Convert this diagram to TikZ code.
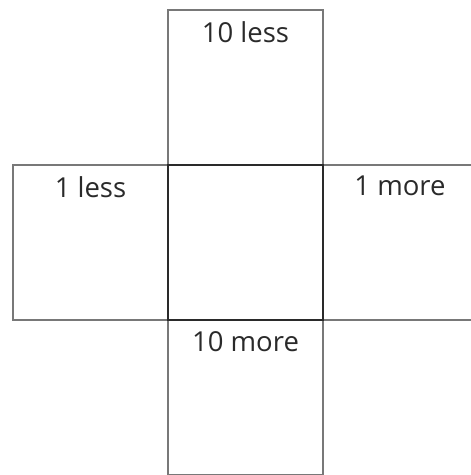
\documentclass[tikz,border=0pt]{standalone}
\usepackage{fontspec}
\setmainfont{Open Sans}
\usetikzlibrary{positioning, backgrounds}

\definecolor{edgegray}{HTML}{787878}
\definecolor{edgedark}{HTML}{2a2a2a}

\tikzset{
	cell/.style={draw=edgegray, line width=2.2pt, minimum size=155pt, inner sep=0pt, outer sep=0pt},
	centre/.style={cell, draw=edgedark, line width=2.6pt},
	tag/.style={anchor=north, inner sep=0pt, yshift=-11pt, text=edgedark, font=\fontsize{27.5}{32}\selectfont}
}

\begin{document}
\begin{tikzpicture}[x=1pt, y=1pt]
		
		\useasboundingbox (0,0) rectangle (471,475);
		
		\node[centre] (mid) at (245.5,232.5) {};
		
		\begin{scope}[on background layer]
		\node[cell, above=0pt of mid, label={[tag]north:10 less}] (up) {};
		\node[cell, left=0pt of mid, label={[tag]north:1 less}] (lt) {};
		\node[cell, below=0pt of mid, label={[tag]north:10 more}] (dn) {};
		% right cell runs off the page
		\coordinate (rtne) at ([xshift=170pt]mid.north east);
		\coordinate (rtse) at ([xshift=170pt]mid.south east);
		\draw[edgegray, line width=2.2pt] (mid.north east) -- (rtne) (mid.south east) -- (rtse);
		\node[tag, xshift=77pt] (rt) at (mid.north east) {1 more};
		\end{scope}
		
		\end{tikzpicture}
\end{document}
